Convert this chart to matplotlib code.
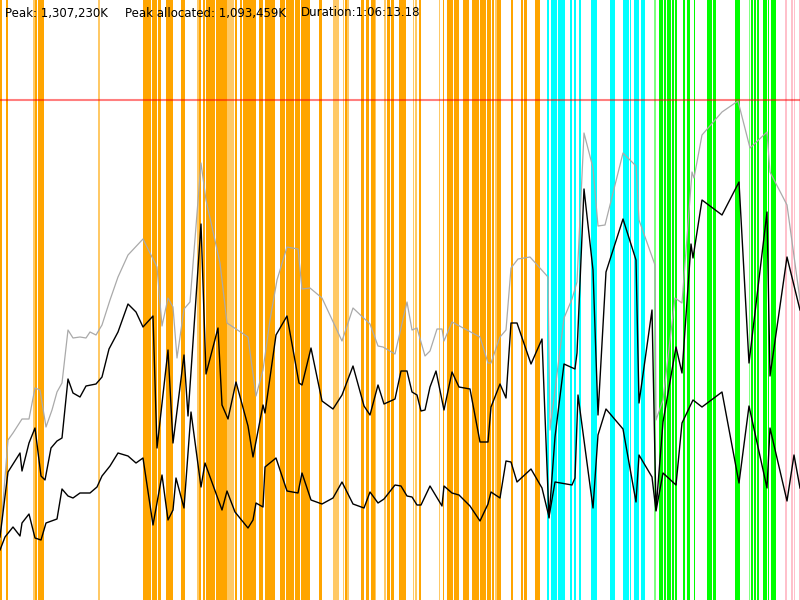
import matplotlib
matplotlib.use("Agg")
import matplotlib.pyplot as plt

# ---- data (time in samples 0..800, memory in units where 500 = peak) ----
peak_level = 500

gray_t = [0, 8, 13, 22, 29, 35, 40, 46, 52, 57, 62, 68, 73, 80, 86, 90, 96, 102, 110, 118, 128, 143,
          157, 162, 168, 173, 177, 184, 190, 201, 206, 220, 227, 248, 256, 263, 270, 277, 287, 298,
          302, 310, 322, 342, 353, 370, 378, 383, 395, 407, 412, 417, 425, 430, 437, 442, 444, 452,
          480, 488, 491, 500, 506, 511, 518, 530, 548, 550, 564, 572, 577, 584, 593, 598, 605, 623,
          636, 639, 655, 656, 663, 675, 682, 692, 694, 702, 722, 738, 750, 767, 770, 787, 800]
gray_v = [60, 160, 167, 181, 181, 212, 210, 173, 190, 208, 217, 270, 262, 263, 262, 268, 265, 275, 300,
          323, 345, 361, 333, 274, 302, 293, 242, 291, 298, 437, 400, 337, 277, 263, 204, 230, 280, 320,
          353, 351, 311, 312, 302, 259, 292, 276, 254, 253, 246, 298, 270, 272, 244, 249, 271, 271, 259,
          278, 263, 237, 237, 263, 270, 332, 341, 343, 323, 170, 282, 301, 318, 467, 432, 374, 375, 447,
          434, 380, 335, 180, 200, 302, 297, 428, 422, 465, 488, 499, 452, 468, 428, 395, 300]

used_t = [0, 8, 20, 22, 29, 35, 41, 45, 51, 57, 62, 68, 73, 80, 86, 91, 96, 102, 109, 118, 128, 136,
          143, 153, 157, 168, 173, 184, 188, 201, 206, 218, 222, 228, 236, 248, 253, 263, 265, 276,
          287, 299, 302, 311, 322, 333, 342, 353, 364, 370, 378, 384, 395, 401, 407, 412, 417, 421,
          425, 430, 436, 444, 452, 459, 470, 480, 488, 491, 500, 506, 511, 517, 531, 542, 549, 555,
          564, 575, 577, 584, 593, 598, 606, 623, 636, 639, 652, 656, 663, 676, 682, 691, 693, 702,
          722, 739, 749, 767, 770, 787, 800]
used_v = [63, 128, 147, 129, 157, 172, 124, 120, 152, 159, 162, 221, 207, 203, 214, 215, 216, 223, 251,
          268, 296, 288, 273, 284, 152, 250, 157, 245, 184, 376, 226, 272, 195, 181, 218, 174, 143, 195,
          187, 265, 284, 217, 215, 252, 199, 191, 205, 234, 194, 185, 215, 196, 201, 229, 229, 208, 205,
          189, 190, 213, 229, 190, 228, 213, 211, 158, 158, 193, 216, 202, 277, 277, 236, 261, 82, 163,
          236, 231, 247, 411, 330, 185, 328, 381, 340, 197, 290, 90, 178, 253, 227, 356, 342, 400, 385,
          418, 237, 388, 224, 343, 290]

alloc_t = [0, 5, 13, 20, 22, 29, 35, 41, 46, 57, 62, 68, 73, 80, 90, 97, 102, 110, 118, 128, 136, 143,
           153, 162, 168, 173, 176, 184, 191, 201, 205, 222, 227, 235, 248, 253, 256, 263, 265, 276,
           287, 298, 302, 311, 322, 333, 342, 353, 364, 370, 378, 384, 395, 401, 407, 412, 417, 421,
           430, 442, 444, 452, 459, 470, 480, 488, 491, 500, 506, 511, 517, 531, 542, 549, 555, 572,
           575, 578, 593, 598, 606, 623, 636, 639, 652, 656, 663, 676, 682, 693, 702, 722, 739, 749,
           767, 770, 787, 794, 800]
alloc_v = [50, 63, 73, 64, 77, 86, 62, 60, 77, 81, 111, 104, 102, 107, 107, 113, 124, 134, 147, 144,
           137, 142, 75, 125, 80, 90, 122, 92, 188, 113, 137, 90, 109, 88, 72, 80, 97, 93, 133, 142, 109,
           107, 127, 100, 96, 102, 118, 96, 92, 108, 97, 101, 115, 114, 104, 103, 95, 95, 114, 94, 114,
           107, 105, 94, 79, 96, 108, 102, 139, 138, 118, 131, 112, 83, 118, 115, 122, 205, 92, 165, 191,
           171, 98, 145, 123, 89, 127, 115, 177, 200, 193, 208, 117, 194, 112, 172, 99, 145, 112]

# event bands: (start, end); "light" lists are paler events
orange_spans = [(0, 2), (6, 8), (35, 37), (38, 44), (142.7, 146.7), (147.3, 150.7), (152, 152.7),
                (153.3, 157.3), (158, 160.7), (166, 173.3), (181.3, 184.7), (198.7, 200.7),
                (203.3, 205.3), (206, 215.3), (216, 218.7), (219.3, 227.3), (235.3, 236.7), (240, 242),
                (242.7, 244.7), (245.3, 256), (258.7, 262.7), (264.7, 275.3), (280, 285.3),
                (286, 290.7), (291.3, 294), (295.3, 296.7), (297.3, 300), (300.7, 310), (319.3, 322),
                (344.7, 346.7), (361.3, 364), (366, 368.7), (370.7, 374.7), (386.7, 390), (391.3, 394),
                (399.3, 406), (408.7, 409.3), (418.7, 421.3), (432.7, 433.3), (440.7, 441.3),
                (442.7, 444), (446.7, 448.7), (449.3, 453.3), (454, 459.3), (462.7, 468.7),
                (472, 479.3), (480, 486), (486.7, 491.3), (492, 494), (496.7, 501.3), (510.7, 513.3),
                (520.7, 523.3), (524, 526.7), (534.7, 540)]
orange_light = [(33, 35), (98, 100), (196.7, 198.7), (227.3, 234), (332.7, 334.7), (335.3, 339.3),
                (342.7, 344), (347.3, 348.7), (374.7, 376), (384, 386), (412.7, 414), (414.7, 416.7),
                (438.7, 440), (495.3, 496.7)]
cyan_spans = [(547.3, 548.7), (551.3, 557), (557.5, 565), (570, 572), (574, 576), (579, 581),
              (591, 597), (610, 615), (623, 629), (629.5, 631), (634, 639), (641, 645)]
green_spans = [(659, 663), (663.5, 666), (667, 671), (671.5, 674), (675, 677), (683, 685), (687, 690),
               (694, 695), (707, 712), (713, 716), (735, 740), (751, 753), (754, 756), (757, 759),
               (763, 767), (767.5, 769), (771, 776)]
green_light = [(654, 656), (749, 750)]
pink_spans = [(785, 787), (791, 793), (793.5, 795), (799, 800)]

header = ["Peak: 1,307,230K", "Peak allocated: 1,093,459K", "Duration:1:06:13.18"]
header_x = [5, 125, 301]

# ---- drawing ----
fig = plt.figure(figsize=(8, 6), dpi=100)
ax = fig.add_axes([0, 0, 1, 1])
ax.set_xlim(0, 800)
ax.set_ylim(0, 600)
ax.axis("off")

def bands(spans, color, alpha=1.0):
    for s, e in spans:
        ax.axvspan(s, e, color=color, alpha=alpha, lw=0, zorder=1)

bands(orange_spans, "#FFA500")
bands(orange_light, "#FFA500", 0.6)
bands(cyan_spans, "#00FFFF")
bands(green_spans, "#00FF00")
bands(green_light, "#00FF00", 0.5)
bands(pink_spans, "#FFC0CB")

ax.axhline(peak_level, color="#FF0000", alpha=0.5, lw=1.5, zorder=5)

ax.plot(gray_t, gray_v, color="#AAAAAA", lw=0.9, zorder=3)
ax.plot(used_t, used_v, color="black", lw=1.0, zorder=4)
ax.plot(alloc_t, alloc_v, color="black", lw=1.0, zorder=4)

for txt, x in zip(header, header_x):
    fig.text(x / 800, 1 - 13 / 600, txt, fontsize=8.5, family="DejaVu Sans",
             color="black", va="center", ha="left", zorder=10)

fig.savefig("out.png", dpi=100)
